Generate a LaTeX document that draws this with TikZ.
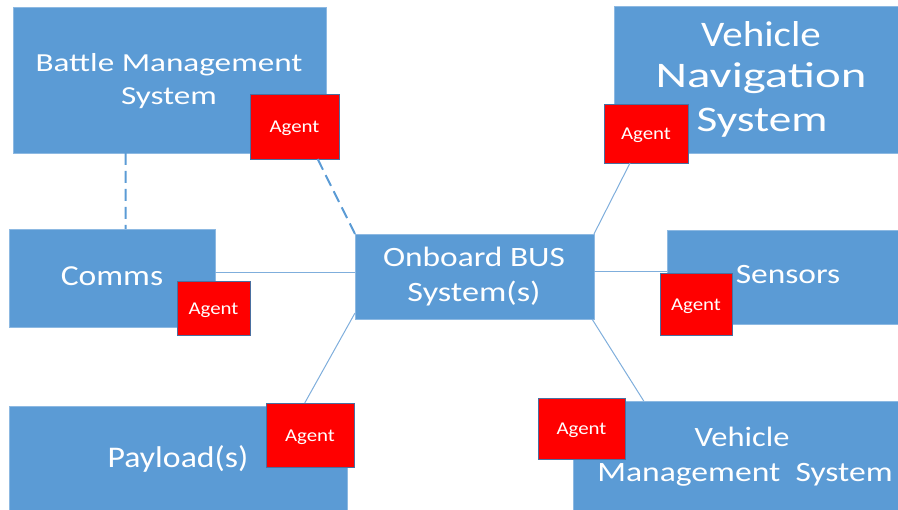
\documentclass[tikz,border=0pt]{standalone}
\usepackage{fontspec}
\setmainfont{Carlito}
\usetikzlibrary{calc}
\definecolor{boxblue}{HTML}{5B9BD5}
\definecolor{edgeblue}{HTML}{8DB9E2}
\definecolor{linkblue}{HTML}{7FAEDC}
\definecolor{agentred}{HTML}{FF0000}
\definecolor{agentedge}{HTML}{4A6FA0}
\newcommand\sx[2][1.1]{\scalebox{#1}[1]{#2}}
\begin{document}
\begin{tikzpicture}[x=1pt,y=-1pt,
  sysbox/.style={fill=boxblue,draw=edgeblue,line width=0.8pt,inner sep=0pt,outer sep=0pt},
  agentbox/.style={fill=agentred,draw=agentedge,line width=0.8pt,inner sep=0pt,outer sep=0pt,
    text=white,font=\fontsize{18}{20}\selectfont,text height=12.5pt,text depth=0pt},
  lbl/.style={text=white,inner sep=0pt,anchor=base},
  link/.style={draw=linkblue,line width=1pt},
  dlink/.style={draw=boxblue,line width=2pt,dash pattern=on 12pt off 6pt}]
\useasboundingbox (0,0) rectangle (898,510);
\clip (0,0) rectangle (898,510);
% system boxes
\node[sysbox,minimum width=313pt,minimum height=146pt] (bms) at (169.5,80) {};
\node[sysbox,minimum width=206pt,minimum height=98pt] (comms) at (112,278) {};
\node[sysbox,minimum width=239pt,minimum height=85pt] (bus) at (474.5,276.5) {};
\node[sysbox,minimum width=338pt,minimum height=112pt] (pay) at (178,462) {};
\node[sysbox,minimum width=288pt,minimum height=147pt] (vns) at (758,79.5) {};
\node[sysbox,minimum width=235pt,minimum height=94pt] (sens) at (784.5,277) {};
\node[sysbox,minimum width=329pt,minimum height=116pt] (vms) at (737.5,459) {};
% connectors
\draw[dlink] ($(bms.south west)!0.36!(bms.south east)$) -- ($(comms.north west)!0.566!(comms.north east)$);
\draw[link] ([yshift=4pt]bus.west) -- ([yshift=4pt]bus.west -| comms.east);
\draw[link] ([yshift=5pt]bus.east) -- ([yshift=5pt]bus.east -| sens.west);
\draw[link] ($(bus.south east)+(-2,0)$) -- ($(vms.north west)!0.215!(vms.north east)$);
% agents
\node[agentbox,minimum width=89pt,minimum height=65pt] (bmsag) at (294.5,126.5) {\sx[1.16]{Agent}};
\node[agentbox,minimum width=73pt,minimum height=54pt] (comag) at (213.5,308) {\sx[1.16]{Agent}};
\node[agentbox,minimum width=88pt,minimum height=64pt] (payag) at (310,435) {\sx[1.16]{Agent}};
\node[agentbox,minimum width=84pt,minimum height=59pt] (vnsag) at (646,133.5) {\sx[1.16]{Agent}};
\node[agentbox,minimum width=72pt,minimum height=62pt] (sensag) at (696,304) {\sx[1.16]{Agent}};
\node[agentbox,minimum width=87pt,minimum height=61pt] (vmsag) at (581.5,428.5) {\sx[1.16]{Agent}};
\draw[dlink] ($(bmsag.south west)!0.76!(bmsag.south east)$) -- (bus.north west);
\draw[link] ($(vnsag.south west)!0.31!(vnsag.south east)$) -- (bus.north east);
\draw[link] ([yshift=6pt]bus.south west) -- ($(payag.north west)!0.44!(payag.north east)$);
% labels
\begin{scope}[font=\fontsize{26}{32}\selectfont]
\node[lbl] (bmsl1) at (169,72) {\sx[1.276]{Battle Management}};
\node[lbl] (bmsl2) at (169,105) {\sx[1.276]{System}};
\end{scope}
\begin{scope}[font=\fontsize{36}{42}\selectfont]
\node[lbl] (vnsl1) at (761,47) {\sx[1.14]{Vehicle}};
\node[lbl] (vnsl2) at (761,88) {\sx[1.355]{Navigation}};
\node[lbl] (vnsl3) at (762,132) {\sx[1.257]{System}};
\end{scope}
\node[lbl,font=\fontsize{29}{34}\selectfont] (comml) at (112,286) {\sx[1.157]{Comms}};
\begin{scope}[font=\fontsize{28}{34}\selectfont]
\node[lbl] (busl1) at (474,267) {\sx[1.192]{Onboard BUS}};
\node[lbl] (busl2) at (474,302) {\sx[1.222]{System(s)}};
\node[lbl] (sensl) at (788,284) {\sx[1.194]{Sensors}};
\node[lbl] (vmsl1) at (742,447) {\sx[1.16]{Vehicle}};
\node[lbl] (vmsl2) at (745,482) {\sx[1.2]{Management\ \ System}};
\end{scope}
\node[lbl,font=\fontsize{30}{34}\selectfont] (payl) at (178,468) {\sx[1.125]{Payload(s)}};
\end{tikzpicture}
\end{document}
